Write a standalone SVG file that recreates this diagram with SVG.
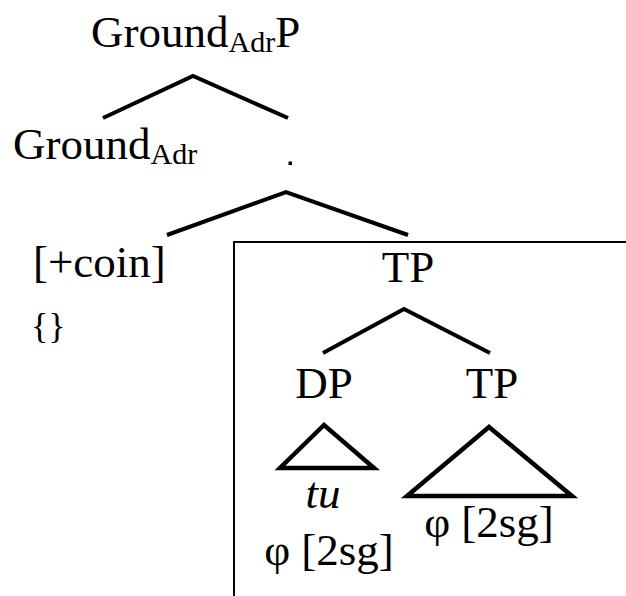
<svg xmlns="http://www.w3.org/2000/svg" width="626" height="596" viewBox="0 0 626 596">
<style>
text{fill:#000;font-size:45px;font-family:"Liberation Serif","Times New Roman","DejaVu Serif",serif}
.sub{font-size:30px}
.br{font-size:36px}
.c{text-anchor:middle}
.edge{fill:none;stroke:#000;stroke-width:4;stroke-linecap:butt;stroke-linejoin:miter}
.tri{fill:none;stroke:#000;stroke-width:4.5;stroke-linejoin:miter}
</style>
<rect x="0" y="0" width="626" height="596" fill="#fff"/>
<g id="box"><path d="M234 600 V242 H627" fill="none" stroke="#000" stroke-width="2"/></g>
<g id="connectors">
<path class="edge" d="M103 118 L193 76 L288 118"/>
<path class="edge" d="M167 235 L286 192 L408 235"/>
<path class="edge" d="M323 353 L404 309 L490 353"/>
<path class="tri" d="M324 425 L280 468 L374 468 Z"/>
<path class="tri" d="M489 427 L407 496 L572 496 Z"/>
</g>
<g id="groundAdrP"><text x="91" y="47">Ground<tspan class="sub" dy="5">Adr</tspan><tspan dy="-5">P</tspan></text></g>
<g id="groundAdr"><text x="13" y="159">Ground<tspan class="sub" dy="5">Adr</tspan></text></g>
<g id="dot"><rect x="288.5" y="161.5" width="3.5" height="3.5" fill="#000"/></g>
<g id="coin"><text x="33" y="277">[+coin]</text></g>
<g id="braces"><text class="br" x="31" y="338">{}</text></g>
<g id="tp1"><text class="c" x="408" y="282">TP</text></g>
<g id="dp"><text class="c" x="324" y="398">DP</text></g>
<g id="tp2"><text class="c" x="492" y="398">TP</text></g>
<g id="tu"><text class="c" x="323" y="508" font-style="italic">tu</text></g>
<g id="phi1"><text class="c" x="329" y="565">φ [2sg]</text></g>
<g id="phi2"><text class="c" x="489" y="537">φ [2sg]</text></g>
</svg>
